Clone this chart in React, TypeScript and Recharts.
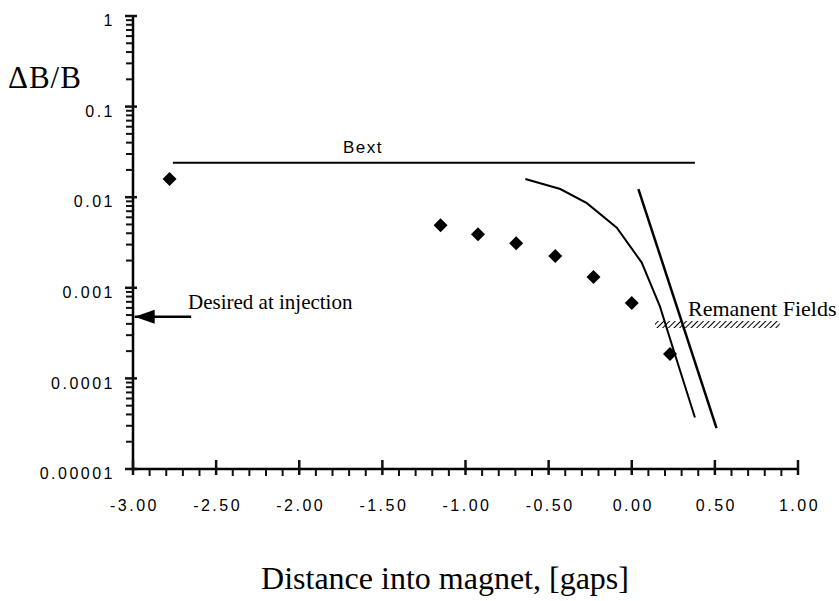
import React from 'react';
import { ScatterChart, Scatter, XAxis, YAxis, ReferenceArea } from 'recharts';

// measured points (diamonds)
const pointX = [-2.78, -1.15, -0.925, -0.695, -0.46, -0.23, 0.0, 0.23];
const pointY = [0.0159, 0.0049, 0.0039, 0.0031, 0.00224, 0.00132, 0.00068, 0.000186];

// curved field falloff
const curveX = [-0.64, -0.43, -0.27, -0.09, 0.06, 0.17, 0.25, 0.38];
const curveY = [0.0159, 0.0123, 0.0086, 0.0046, 0.0019, 0.00062, 0.00021, 0.000037];

// straight falloff line
const straightX = [0.04, 0.51];
const straightY = [0.0123, 0.0000283];

// Bext level
const bextX = [-2.76, 0.38];
const bextY = [0.024, 0.024];

// desired at injection arrow
const arrowX = [-2.65, -2.99];
const arrowY = [0.00048, 0.00048];

// remanent fields band
const remanentX = [0.14, 0.89];
const remanentY = [0.00036, 0.00043];

const yMajor = [0.00001, 0.0001, 0.001, 0.01, 0.1, 1];
const yLabels = ['0.00001', '0.0001', '0.001', '0.01', '0.1', '1'];
const xLabels = ['-3.00', '-2.50', '-2.00', '-1.50', '-1.00', '-0.50', '0.00', '0.50', '1.00'];

const yTicks: number[] = [];
yMajor.forEach((d, i) => {
  if (i < yMajor.length - 1) {
    for (let k = 1; k <= 9; k++) yTicks.push(d * k);
  } else yTicks.push(d);
});
const xTicks: number[] = [];
for (let i = -30; i <= 10; i++) xTicks.push(i / 10);

const zip = (xs: number[], ys: number[]) => xs.map((x, i) => ({ x, y: ys[i] }));

const isMajorY = (v: number) => {
  const l = Math.log10(v);
  return Math.abs(l - Math.round(l)) < 1e-6;
};
const isMajorX = (v: number) => Math.abs(v * 2 - Math.round(v * 2)) < 1e-6;

const ink = '#111';
const tickFont = { fontFamily: '"Liberation Sans", Arial, sans-serif', fontSize: 16, letterSpacing: 2.5 };

const YTick = ({ x, y, payload }: any) => {
  const v = payload.value;
  const major = isMajorY(v);
  const idx = yMajor.findIndex((m) => Math.abs(Math.log10(m) - Math.log10(v)) < 1e-6);
  if (!major) {
    return (
      <g>
        <rect x={x - 7} y={y - 1} width={7} height={2} fill={ink} />
      </g>
    );
  }
  return (
    <g>
      <rect x={x - 8} y={y - 1.25} width={12} height={2.5} fill={ink} />
      <text x={x - 18} y={y + 6} textAnchor="end" dominantBaseline="middle" fill="#000" style={tickFont}>
        {yLabels[idx]}
      </text>
    </g>
  );
};

const XTick = ({ x, y, payload }: any) => {
  const v = payload.value;
  const major = isMajorX(v);
  const idx = Math.round((v + 3) * 2);
  if (!major) {
    return (
      <g>
        <rect x={x - 1} y={y} width={2} height={7} fill={ink} />
      </g>
    );
  }
  return (
    <g>
      <rect x={x - 1.25} y={y - 9} width={2.5} height={15} fill={ink} />
      <text x={x + 1.5} y={y + 38} textAnchor="middle" dominantBaseline="middle" fill="#000" style={tickFont}>
        {xLabels[idx]}
      </text>
    </g>
  );
};

const Diamond = ({ cx, cy }: any) => (
  <polygon points={`${cx},${cy - 7} ${cx + 7},${cy} ${cx},${cy + 7} ${cx - 7},${cy}`} fill="#000" />
);
const NoDot = () => <g />;
const ArrowHead = ({ cx, cy, index }: any) =>
  index === 1 ? <polygon points={`${cx},${cy} ${cx + 20},${cy - 7} ${cx + 20},${cy + 7}`} fill="#000" /> : <g />;

const serif = '"Liberation Serif", "Times New Roman", serif';

export default function App() {
  return (
    <div style={{ position: 'absolute', left: 0, top: 0, width: 839, height: 601, background: '#fff' }}>
      <ScatterChart width={839} height={601} margin={{ top: 16, right: 41, left: 0, bottom: 92 }}>
        <defs>
          <pattern id="hatch" patternUnits="userSpaceOnUse" width="4" height="4" patternTransform="rotate(45)">
            <line x1="0" y1="0" x2="0" y2="4" stroke="#000" strokeWidth="2" />
          </pattern>
        </defs>
        <XAxis
          type="number"
          dataKey="x"
          domain={[-3, 1]}
          ticks={xTicks}
          interval={0}
          allowDataOverflow
          height={40}
          stroke="#000"
          strokeWidth={2.5}
          tickLine={false}
          tickSize={0}
          tickMargin={0}
          tick={<XTick />}
        />
        <YAxis
          type="number"
          dataKey="y"
          scale="log"
          domain={[0.00001, 1]}
          ticks={yTicks}
          interval={0}
          allowDataOverflow
          width={133}
          stroke="#000"
          strokeWidth={2.5}
          tickLine={false}
          tickSize={0}
          tickMargin={0}
          tick={<YTick />}
        />
        <ReferenceArea
          x1={remanentX[0]}
          x2={remanentX[1]}
          y1={remanentY[0]}
          y2={remanentY[1]}
          fill="url(#hatch)"
          fillOpacity={1}
          stroke="none"
        />
        <Scatter data={zip(bextX, bextY)} line={{ stroke: '#000', strokeWidth: 2 }} shape={<NoDot />} isAnimationActive={false} />
        <Scatter data={zip(curveX, curveY)} line={{ stroke: '#000', strokeWidth: 2 }} lineType="joint" shape={<NoDot />} isAnimationActive={false} />
        <Scatter data={zip(straightX, straightY)} line={{ stroke: '#000', strokeWidth: 2.5 }} shape={<NoDot />} isAnimationActive={false} />
        <Scatter data={zip(arrowX, arrowY)} line={{ stroke: '#000', strokeWidth: 2.5 }} shape={<ArrowHead />} isAnimationActive={false} />
        <Scatter data={zip(pointX, pointY)} shape={<Diamond />} isAnimationActive={false} />
      </ScatterChart>
      <div style={{ position: 'absolute', left: 8, top: 60, fontFamily: serif, fontSize: 31, lineHeight: '36px', letterSpacing: 1 }}>ΔB/B</div>
      <div style={{ position: 'absolute', left: 343, top: 138, fontFamily: '"Liberation Sans", Arial, sans-serif', fontSize: 17, lineHeight: '20px', letterSpacing: 1.5 }}>Bext</div>
      <div style={{ position: 'absolute', left: 188, top: 290, fontFamily: serif, fontSize: 21, lineHeight: '24px' }}>Desired at injection</div>
      <div style={{ position: 'absolute', left: 688, top: 296, fontFamily: serif, fontSize: 22, lineHeight: '26px' }}>Remanent Fields</div>
      <div style={{ position: 'absolute', left: 0, width: 890, top: 560, textAlign: 'center', fontFamily: serif, fontSize: 32, lineHeight: '36px' }}>
        Distance into magnet, [gaps]
      </div>
    </div>
  );
}
